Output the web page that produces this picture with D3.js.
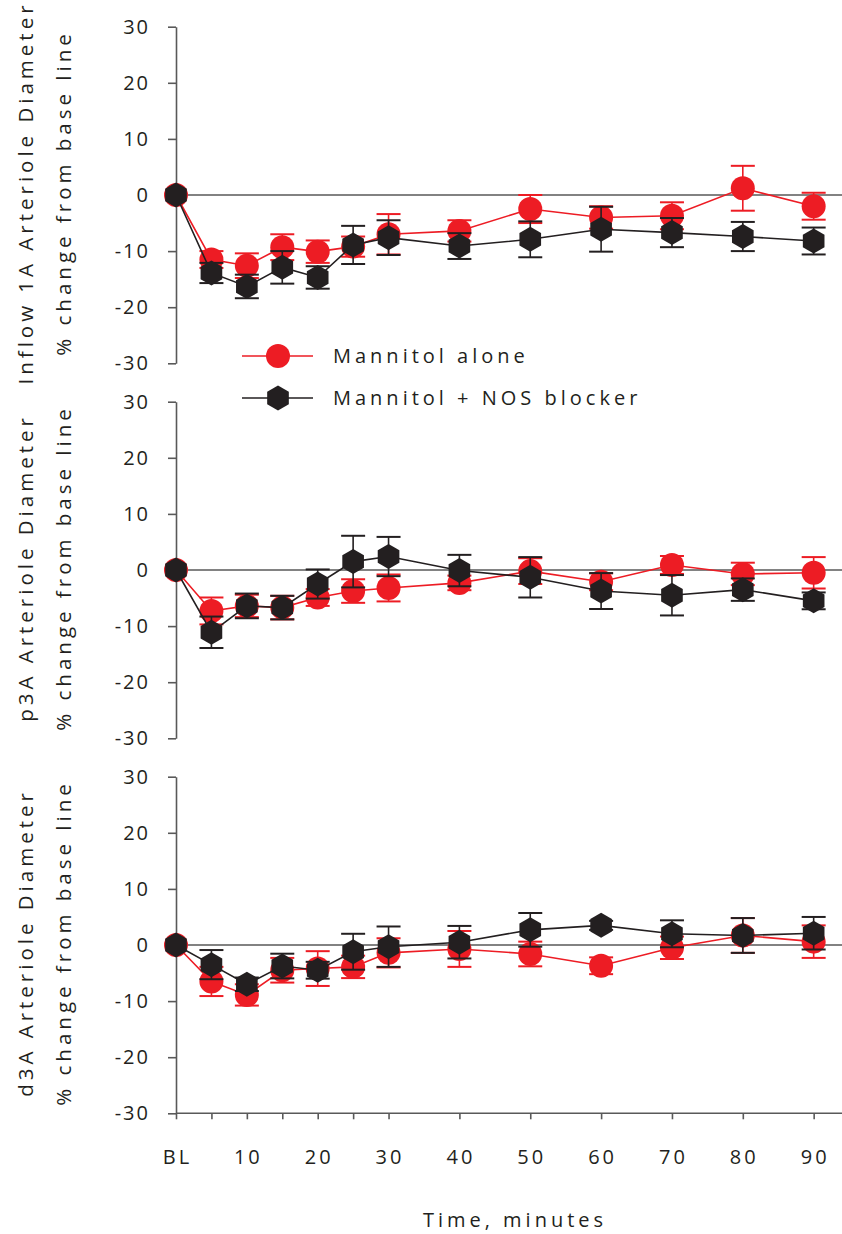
<!DOCTYPE html>
<html>
<head>
<meta charset="utf-8">
<script src="https://cdn.jsdelivr.net/npm/d3@7"></script>
<style>
  body { margin: 0; background: #fff; }
  svg text { font-family: "Open Sans", sans-serif; fill: #231f20; }
</style>
</head>
<body>
<div id="chart"></div>
<script>
// time points (BL = 0), tick labels
var times = [0, 5, 10, 15, 20, 25, 30, 40, 50, 60, 70, 80, 90];
var xLabelValues = [0, 10, 20, 30, 40, 50, 60, 70, 80, 90];
var xLabels = ["BL", "10", "20", "30", "40", "50", "60", "70", "80", "90"];
var yTicks = [-30, -20, -10, 0, 10, 20, 30];

var panelTitles = ["Inflow 1A Arteriole Diameter", "p3A Arteriole Diameter", "d3A Arteriole Diameter"];
var seriesNames = ["Mannitol alone", "Mannitol + NOS blocker"];

// Mannitol alone (red)
var aloneInflow = [0, -11.5, -12.6, -9.3, -10.1, -9.2, -7.0, -6.4, -2.5, -4.0, -3.7, 1.2, -2.0];
var aloneInflowErr = [0, 1.5, 2.2, 2.3, 2.0, 1.8, 3.6, 1.9, 2.5, 2.0, 2.4, 4.0, 2.4];
var aloneP3A = [0, -7.3, -6.4, -6.7, -4.9, -3.75, -3.2, -2.3, -0.2, -2.1, 0.9, -0.7, -0.5];
var aloneP3AErr = [0, 2.4, 2.0, 2.1, 1.5, 2.1, 2.4, 1.3, 2.3, 1.5, 1.6, 2.0, 2.8];
var aloneD3A = [0, -6.5, -8.9, -4.5, -4.2, -3.9, -1.4, -0.7, -1.6, -3.7, -0.5, 1.7, 0.6];
var aloneD3AErr = [0, 2.6, 1.9, 2.2, 3.1, 2.0, 2.6, 3.2, 2.2, 1.5, 2.0, 3.1, 2.9];

// Mannitol + NOS blocker (black)
var nosInflow = [0, -13.9, -16.3, -12.9, -14.7, -8.9, -7.6, -9.1, -7.9, -6.1, -6.7, -7.4, -8.2];
var nosInflowErr = [0, 1.8, 2.1, 2.9, 2.0, 3.4, 3.1, 2.3, 3.2, 4.0, 2.6, 2.6, 2.4];
var nosP3A = [0, -11.1, -6.4, -6.7, -2.5, 1.5, 2.4, -0.1, -1.3, -3.75, -4.5, -3.5, -5.5];
var nosP3AErr = [0, 2.8, 2.2, 2.1, 2.6, 4.6, 3.5, 2.8, 3.6, 3.2, 3.6, 2.0, 1.5];
var nosD3A = [0, -3.5, -7.0, -3.75, -4.5, -1.2, -0.3, 0.5, 2.7, 3.5, 2.0, 1.7, 2.1];
var nosD3AErr = [0, 2.6, 1.2, 2.2, 1.5, 3.2, 3.6, 2.9, 3.0, 0.8, 2.4, 3.1, 2.9];

var red = "#ed1c24";
var black = "#231f20";
var axisColor = "#595959";

var svgWidth = 842;
var svgHeight = 1234;

var svg = d3.select("#chart").append("svg")
  .attr("width", svgWidth)
  .attr("height", svgHeight);

var xScale = d3.scaleLinear().domain([0, 94]).range([176, 842]);

// each panel: y range in pixels
var panels = [
  { title: panelTitles[0], top: 26.7, bottom: 363.3, alone: aloneInflow, aloneErr: aloneInflowErr, nos: nosInflow, nosErr: nosInflowErr },
  { title: panelTitles[1], top: 401.7, bottom: 738.3, alone: aloneP3A, aloneErr: aloneP3AErr, nos: nosP3A, nosErr: nosP3AErr },
  { title: panelTitles[2], top: 776.7, bottom: 1113.3, alone: aloneD3A, aloneErr: aloneD3AErr, nos: nosD3A, nosErr: nosD3AErr }
];

// hexagon with points up/down
var hexagon = {
  draw: function(context, size) {
    var r = Math.sqrt(size / (1.5 * Math.sqrt(3)));
    for (var i = 0; i < 6; i++) {
      var a = Math.PI / 2 + i * Math.PI / 3;
      var px = r * Math.cos(a), py = r * Math.sin(a);
      if (i === 0) context.moveTo(px, py); else context.lineTo(px, py);
    }
    context.closePath();
  }
};
var hexSize = 1.5 * Math.sqrt(3) * 12.5 * 12.5;

var spacing = 4;

panels.forEach(function(p, pi) {
  var yScale = d3.scaleLinear().domain([-30, 30]).range([p.bottom, p.top]);
  var g = svg.append("g");

  // y axis, plain hyphen for negatives
  var leftAxis = d3.axisLeft(yScale).tickValues(yTicks).tickSize(8).tickSizeOuter(0).tickPadding(10)
    .tickFormat(function(d) { return String(d); });
  var ya = g.append("g")
    .attr("transform", "translate(" + xScale(0) + ",0)")
    .call(leftAxis);
  ya.select(".domain").attr("stroke", axisColor).attr("stroke-width", 1.6);
  ya.selectAll(".tick line").attr("stroke", axisColor).attr("stroke-width", 1.6);
  ya.selectAll(".tick text")
    .style("font-family", "'Open Sans', sans-serif")
    .attr("font-size", 20)
    .attr("letter-spacing", 2)
    .attr("dx", -8)
    .attr("fill", black);

  // zero line
  g.append("line")
    .attr("x1", xScale(0)).attr("x2", svgWidth)
    .attr("y1", yScale(0)).attr("y2", yScale(0))
    .attr("stroke", axisColor).attr("stroke-width", 1.6);

  // y titles
  var cy = yScale(0);
  g.append("text")
    .attr("transform", "translate(33," + cy + ") rotate(-90)")
    .attr("text-anchor", "middle")
    .attr("font-size", 20.5)
    .attr("letter-spacing", spacing)
    .attr("dx", spacing / 2)
    .text(p.title);
  g.append("text")
    .attr("transform", "translate(71," + cy + ") rotate(-90)")
    .attr("text-anchor", "middle")
    .attr("font-size", 20.5)
    .attr("letter-spacing", spacing)
    .attr("dx", spacing / 2)
    .text("% change from base line");

  // bottom axis only on last panel
  if (pi === panels.length - 1) {
    var bottomAxis = d3.axisBottom(xScale).tickValues(times).tickSize(6).tickSizeOuter(0).tickFormat("");
    var xa = g.append("g")
      .attr("transform", "translate(0," + p.bottom + ")")
      .call(bottomAxis);
    xa.select(".domain").attr("stroke", axisColor).attr("stroke-width", 1.6)
      .attr("d", "M" + xScale(0) + ",0H" + svgWidth);
    xa.selectAll(".tick line").attr("stroke", axisColor).attr("stroke-width", 1.6);

    g.selectAll(".xlab")
      .data(xLabelValues)
      .enter()
      .append("text")
      .attr("x", function(d) { return xScale(d); })
      .attr("y", p.bottom + 51)
      .attr("text-anchor", "middle")
      .attr("font-size", 20)
      .attr("letter-spacing", 3)
      .attr("dx", 1.5)
      .text(function(d, i) { return xLabels[i]; });

    g.append("text")
      .attr("x", 513)
      .attr("y", p.bottom + 114)
      .attr("text-anchor", "middle")
      .attr("font-size", 20)
      .attr("letter-spacing", spacing)
      .attr("dx", spacing / 2)
      .text("Time, minutes");
  }

  var line = d3.line()
    .x(function(d) { return xScale(d.t); })
    .y(function(d) { return yScale(d.v); });

  var series = [
    { vals: p.alone, errs: p.aloneErr, color: red, shape: "circle" },
    { vals: p.nos, errs: p.nosErr, color: black, shape: "hex" }
  ];

  series.forEach(function(s) {
    var data = times.map(function(t, i) { return { t: t, v: s.vals[i], e: s.errs[i] }; });
    var sg = g.append("g");

    sg.append("path")
      .datum(data)
      .attr("d", line)
      .attr("fill", "none")
      .attr("stroke", s.color)
      .attr("stroke-width", 1.6);

    var eb = sg.selectAll(".err")
      .data(data.filter(function(d) { return d.e > 0; }))
      .enter()
      .append("g");
    eb.append("line")
      .attr("x1", function(d) { return xScale(d.t); })
      .attr("x2", function(d) { return xScale(d.t); })
      .attr("y1", function(d) { return yScale(d.v + d.e); })
      .attr("y2", function(d) { return yScale(d.v - d.e); })
      .attr("stroke", s.color).attr("stroke-width", 1.6);
    [1, -1].forEach(function(sign) {
      eb.append("line")
        .attr("x1", function(d) { return xScale(d.t) - 12; })
        .attr("x2", function(d) { return xScale(d.t) + 12; })
        .attr("y1", function(d) { return yScale(d.v + sign * d.e); })
        .attr("y2", function(d) { return yScale(d.v + sign * d.e); })
        .attr("stroke", s.color).attr("stroke-width", 2);
    });

    if (s.shape === "circle") {
      sg.selectAll(".pt")
        .data(data)
        .enter()
        .append("circle")
        .attr("cx", function(d) { return xScale(d.t); })
        .attr("cy", function(d) { return yScale(d.v); })
        .attr("r", 12)
        .attr("fill", s.color);
    } else {
      sg.selectAll(".pt")
        .data(data)
        .enter()
        .append("path")
        .attr("d", d3.symbol().type(hexagon).size(hexSize))
        .attr("transform", function(d) { return "translate(" + xScale(d.t) + "," + yScale(d.v) + ")"; })
        .attr("fill", s.color);
    }
  });
});

// legend
var legend = svg.append("g");
var legendRows = [
  { name: seriesNames[0], color: red, shape: "circle", y: 356 },
  { name: seriesNames[1], color: black, shape: "hex", y: 398 }
];
legendRows.forEach(function(r) {
  legend.append("line")
    .attr("x1", 242).attr("x2", 313)
    .attr("y1", r.y).attr("y2", r.y)
    .attr("stroke", r.color).attr("stroke-width", 1.6);
  if (r.shape === "circle") {
    legend.append("circle").attr("cx", 278).attr("cy", r.y).attr("r", 12).attr("fill", r.color);
  } else {
    legend.append("path")
      .attr("d", d3.symbol().type(hexagon).size(hexSize))
      .attr("transform", "translate(278," + r.y + ")")
      .attr("fill", r.color);
  }
  legend.append("text")
    .attr("x", 333)
    .attr("y", r.y + 7)
    .attr("font-size", 20)
    .attr("letter-spacing", spacing)
    .text(r.name);
});
</script>
</body>
</html>
